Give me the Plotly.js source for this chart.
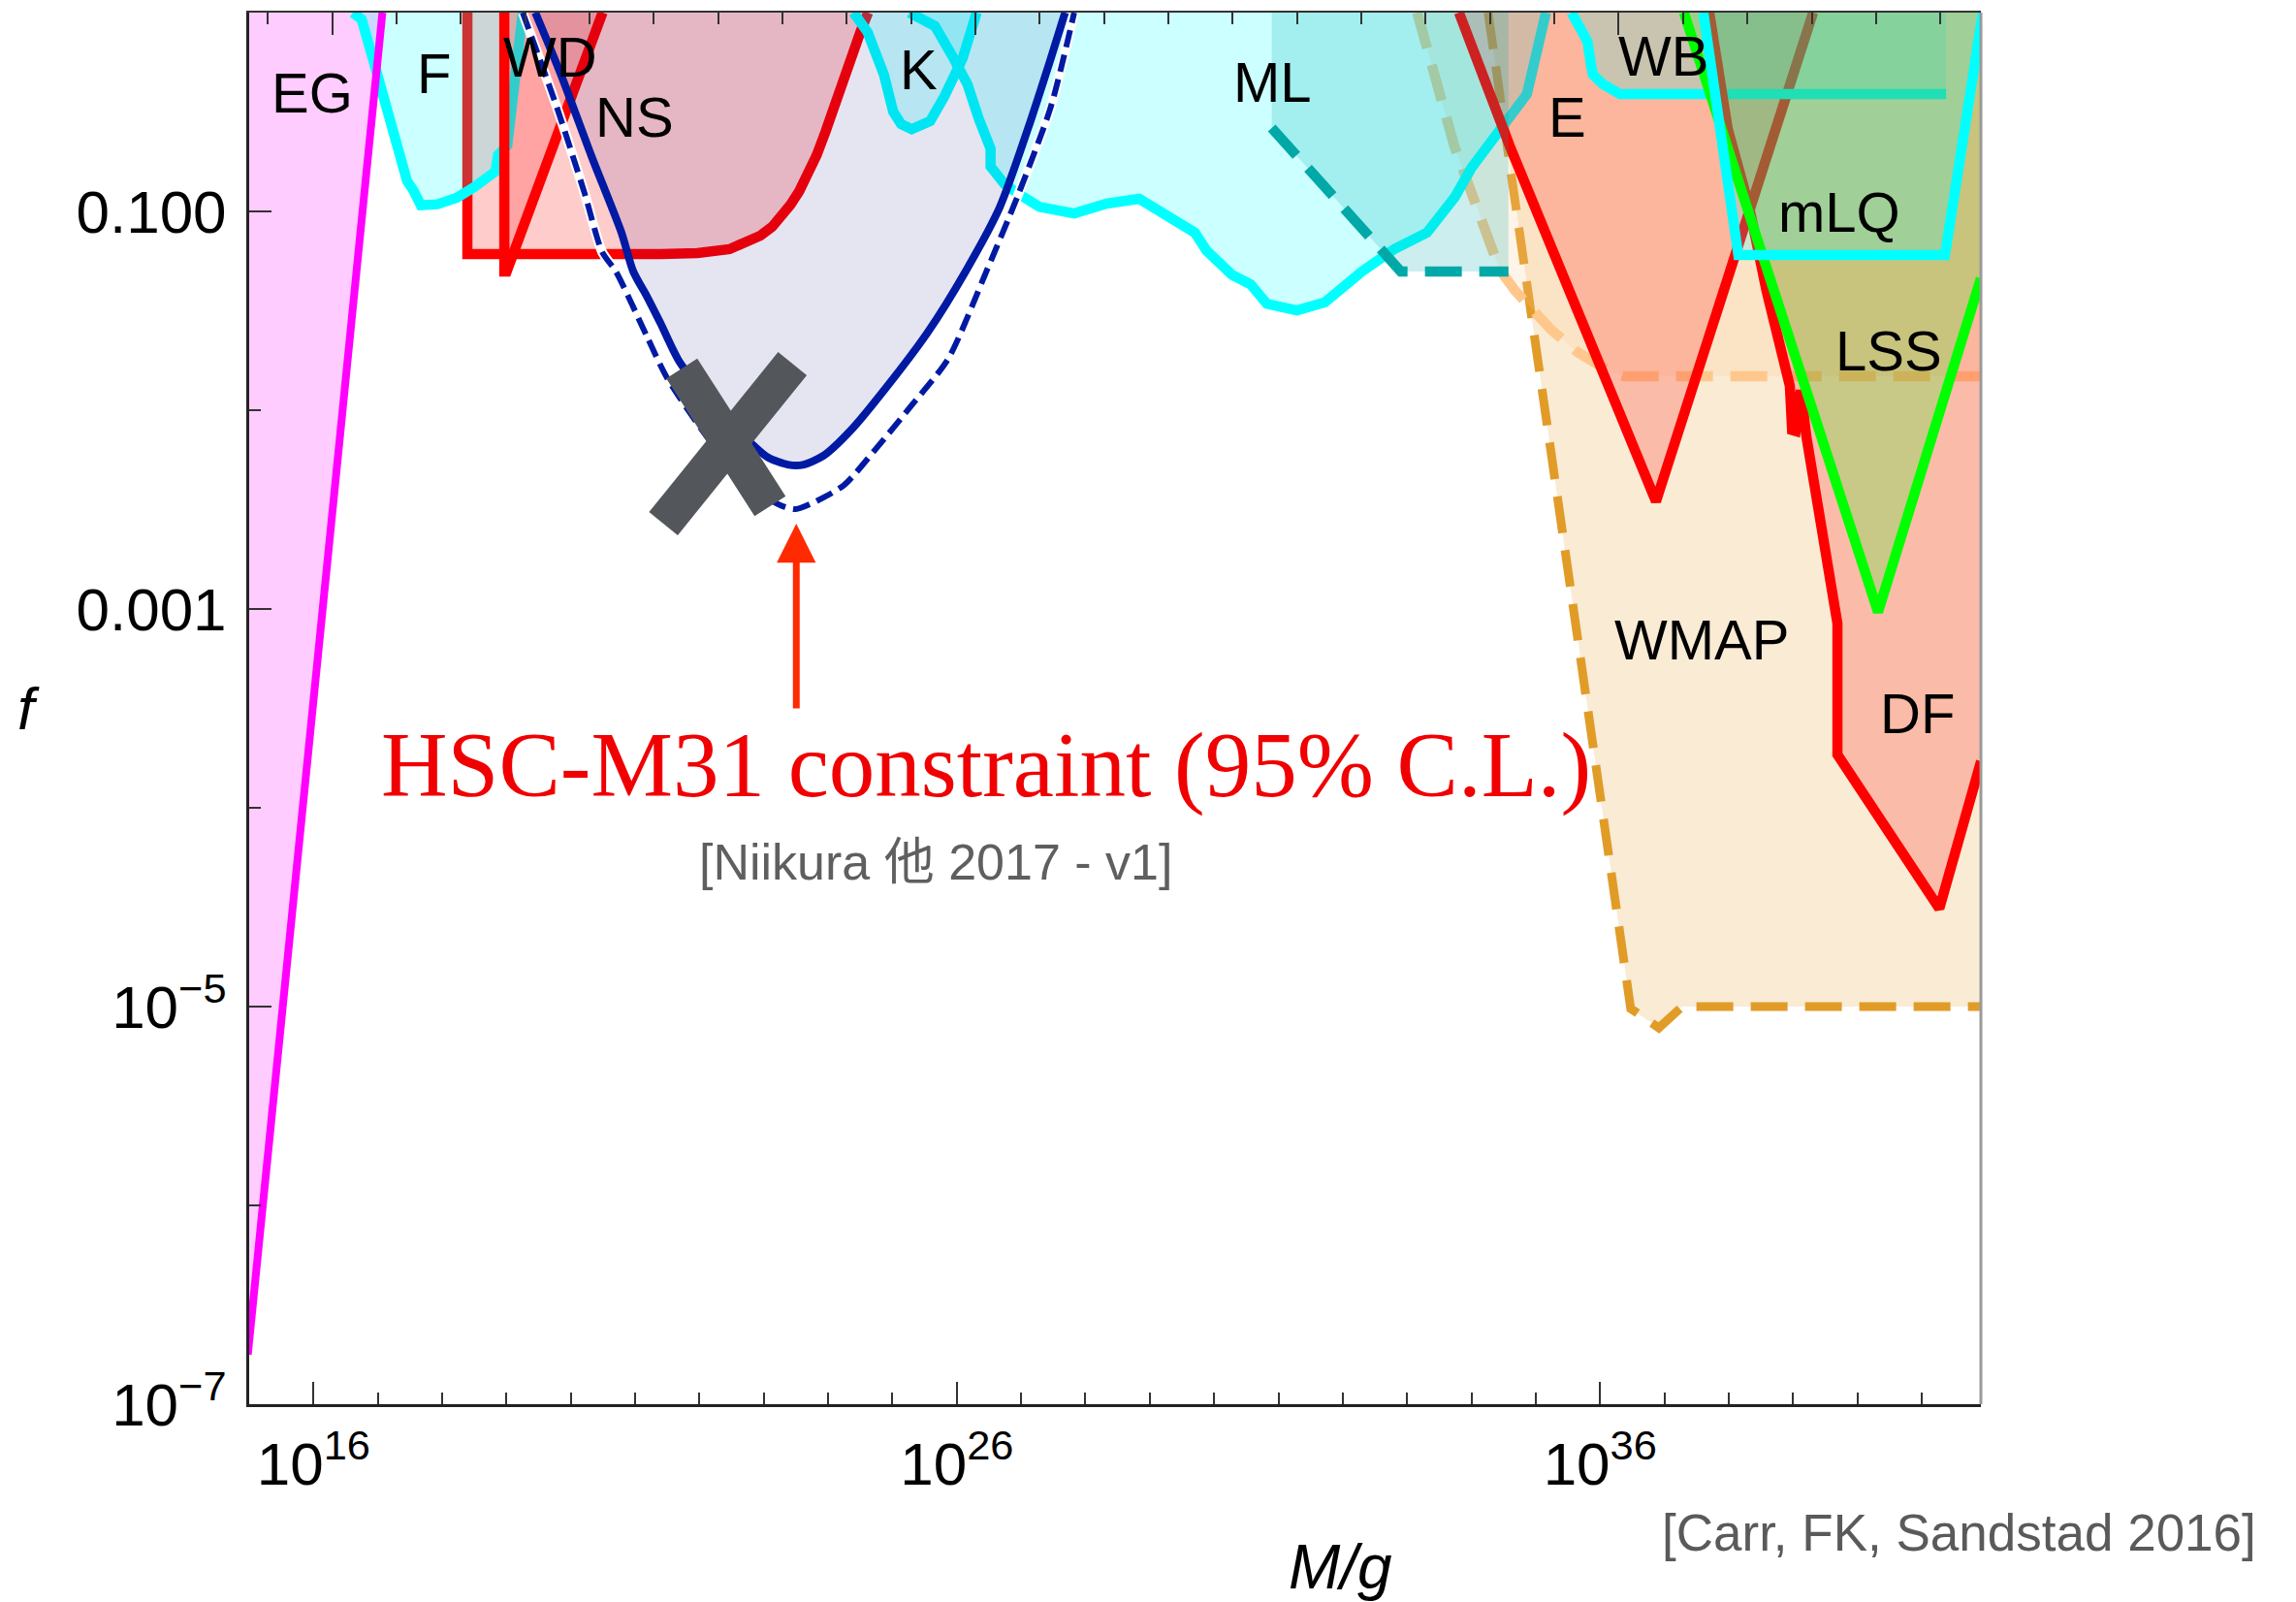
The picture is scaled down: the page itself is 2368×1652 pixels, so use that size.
<!DOCTYPE html>
<html>
<head>
<meta charset="utf-8">
<script src="https://cdn.plot.ly/plotly-3.0.1.min.js"></script>
<style>
  html, body { margin: 0; padding: 0; background: #ffffff; }
  #chart { width: 2368px; height: 1652px; }
</style>
</head>
<body>
<div id="chart"></div>
<script>
// PBH abundance limits f(M). Every value below is log10: M in grams, f dimensionless.

// Frame limits
const M_MIN = 15, M_MAX = 41.92, F_MIN = -7, F_MAX = 0;

// Axis ticks
const xMajor = [16, 26, 36];
const xMajorText = ['10<sup>16</sup>', '10<sup>26</sup>', '10<sup>36</sup>'];
const xMinor = [15, 17, 18, 19, 20, 21, 22, 23, 24, 25, 27, 28, 29, 30, 31, 32, 33, 34, 35, 37, 38, 39, 40, 41];
const yMajor = [-7, -5, -3, -1];
const yMajorText = ['10<sup>\u22127</sup>', '10<sup>\u22125</sup>', '0.001', '0.100'];
const yMinor = [-6, -4, -2];

// EG: extragalactic gamma rays
const EG_logM = [14.979, 15.511, 16.457, 17.071];
const EG_logf = [-6.751, -5.0, -1.985, 0];

// F: femtolensing
const F_logM = [16.612, 16.748, 16.949, 17.080, 17.285, 17.454, 17.555, 17.668, 17.925, 18.226, 18.498, 18.830, 18.867, 19.012, 19.252];
const F_logf = [0, -0.034, -0.262, -0.408, -0.620, -0.847, -0.896, -0.969, -0.964, -0.932, -0.878, -0.799, -0.717, -0.668, 0];

// NS: neutron stars
const NS_logM = [18.392, 18.392, 21.394, 21.967, 22.465, 22.751, 22.947, 23.128, 23.279, 23.415, 23.551, 23.686, 23.822, 23.958, 24.086, 24.222, 24.356, 24.501, 24.621];
const NS_logf = [0, -1.215, -1.215, -1.210, -1.190, -1.156, -1.122, -1.078, -1.024, -0.966, -0.898, -0.815, -0.717, -0.600, -0.473, -0.351, -0.229, -0.098, 0];

// WD: white dwarfs
const WD_logM = [18.966, 18.966, 19.003, 20.494];
const WD_logf = [0, -1.302, -1.302, 0];

// K: Kepler microlensing
const K_logM = [24.395, 24.614, 24.866, 25.011, 25.134, 25.299, 25.587, 25.804, 26.092, 26.309];
const K_logf = [0, -0.099, -0.311, -0.498, -0.561, -0.587, -0.546, -0.424, -0.229, 0];

// ML: MACHO / EROS microlensing
const ML_logM = [25.262, 25.659, 25.949, 26.165, 26.346, 26.525, 26.525, 26.742, 26.959, 27.284, 27.825, 28.330, 28.836, 29.267, 29.701, 29.881, 30.278, 30.567, 30.821, 31.288, 31.721, 32.299, 32.804, 33.309, 33.742, 34.003, 34.320, 34.697, 34.863, 34.969, 35.158];
const ML_logf = [0, -0.067, -0.229, -0.360, -0.538, -0.684, -0.774, -0.863, -0.912, -0.977, -1.010, -0.961, -0.937, -1.026, -1.107, -1.197, -1.319, -1.367, -1.465, -1.498, -1.457, -1.302, -1.189, -1.107, -0.928, -0.780, -0.636, -0.473, -0.410, -0.263, 0];

// ML extension (dashed teal)
const MLX_logM = [30.896, 32.902, 34.576];
const MLX_logf = [-0.580, -1.302, -1.302];

// Accretion limit (dashed peach)
const ACC_logM = [33.158, 33.731, 34.440, 34.682, 35.240, 35.647, 36.145, 36.371, 41.92];
const ACC_logf = [0, -0.668, -1.293, -1.400, -1.595, -1.707, -1.805, -1.829, -1.829];

// WMAP (dashed orange)
const WMAP_logM = [34.259, 36.476, 36.914, 37.276, 41.92];
const WMAP_logf = [0, -5.010, -5.107, -5.0, -5.0];

// E: Eridanus II
const E_logM = [33.807, 34.592, 36.869, 39.312];
const E_logf = [0, -0.668, -2.459, 0];

// WB: wide binaries
const WB_logM = [35.555, 35.662, 35.805, 35.858, 35.889, 36.048, 36.311, 41.379];
const WB_logf = [0, -0.059, -0.146, -0.263, -0.312, -0.361, -0.410, -0.410];

// DF: dynamical friction
const DF_logM = [37.698, 37.985, 38.317, 38.588, 38.950, 38.985, 39.040, 39.120, 39.207, 39.418, 39.614, 39.690, 39.690, 41.274, 41.923];
const DF_logf = [0, -0.585, -0.976, -1.400, -1.878, -2.100, -2.105, -1.900, -2.132, -2.537, -2.946, -3.073, -3.732, -4.507, -3.766];

// LSS: large-scale structure
const LSS_logM = [37.304, 40.321, 41.92];
const LSS_logf = [0, -3.015, -1.337];

// mLQ: millilensing of quasars
const MLQ_logM = [37.606, 38.149, 41.362, 41.95];
const MLQ_logf = [0, -1.220, -1.220, 0];

// HSC-M31 microlensing: solid and dashed bounds
const HSC_logM = [19.448, 19.845, 20.315, 20.787, 20.970, 21.192, 21.394, 21.692, 22.238, 22.796, 23.066, 23.389, 23.605, 23.928, 24.359, 24.898, 25.542, 26.136, 26.670, 27.103, 27.463, 27.683];
const HSC_logf = [0, -0.311, -0.717, -1.107, -1.302, -1.433, -1.562, -1.758, -1.976, -2.164, -2.238, -2.275, -2.275, -2.229, -2.099, -1.888, -1.611, -1.302, -0.977, -0.587, -0.229, 0];
const HSC2_logM = [19.252, 19.779, 20.217, 20.488, 20.700, 21.182, 21.499, 22.343, 23.022, 23.279, 23.496, 23.821, 24.250, 24.736, 25.274, 25.867, 26.460, 26.959, 27.463, 27.825];
const HSC2_logf = [0, -0.473, -0.912, -1.205, -1.302, -1.628, -1.839, -2.229, -2.434, -2.481, -2.498, -2.457, -2.376, -2.197, -1.985, -1.741, -1.302, -0.912, -0.473, 0];

// Cross-out strokes over the HSC bound
const CROSS1_logM = [21.725, 23.098];
const CROSS1_logf = [-1.790, -2.483];
const CROSS2_logM = [21.439, 23.445];
const CROSS2_logf = [-2.571, -1.766];

// Region labels
const labelText = ['EG', 'F', 'WD', 'NS', 'K', 'ML', 'E', 'WB', 'mLQ', 'LSS', 'WMAP', 'DF'];
const labelLogM = [15.979, 17.872, 19.674, 20.986, 25.406, 30.911, 35.496, 36.989, 39.719, 40.488, 37.578, 40.926];
const labelLogf = [-0.400, -0.305, -0.222, -0.522, -0.283, -0.349, -0.522, -0.217, -1.000, -1.702, -3.156, -3.522];

// Arrow pointing at the HSC dashed minimum
const arrowLogM = 23.505;
const arrowTipLogf = -2.571;
const arrowTailLogf = -3.507;

const pow10 = a => a.map(v => Math.pow(10, v));

function fillTrace(lm, lf, color) {
  return { type: 'scatter', mode: 'lines', x: pow10(lm), y: pow10(lf),
    fill: 'toself', fillcolor: color, line: { width: 0 },
    hoverinfo: 'skip', showlegend: false };
}
function lineTrace(lm, lf, color, width, dash, shape) {
  return { type: 'scatter', mode: 'lines', x: pow10(lm), y: pow10(lf),
    line: { color: color, width: width, dash: dash || 'solid', shape: shape || 'linear', smoothing: 0.7 },
    hoverinfo: 'skip', showlegend: false };
}

const RED = '#ff0000', CYAN = '#00ffff';
const RED_F = 'rgba(255,0,0,0.2)', CYAN_F = 'rgba(0,255,255,0.2)';
const LW = 10.5;
const LONG_DASH = '38px,18px';

const traces = [
  fillTrace(WMAP_logM.concat([M_MAX]), WMAP_logf.concat([F_MAX]), 'rgba(225,156,40,0.2)'),
  lineTrace(WMAP_logM, WMAP_logf, '#e19c28', 9, LONG_DASH),
  fillTrace(ACC_logM.concat([M_MAX]), ACC_logf.concat([F_MAX]), 'rgba(255,200,140,0.2)'),
  lineTrace(ACC_logM, ACC_logf, '#ffc78c', LW, LONG_DASH),
  fillTrace(EG_logM.concat([M_MIN - 0.1, M_MIN - 0.1]), EG_logf.concat([F_MAX, EG_logf[0]]), 'rgba(255,0,255,0.2)'),
  fillTrace(NS_logM, NS_logf, RED_F),
  lineTrace(NS_logM, NS_logf, RED, LW),
  fillTrace(F_logM, F_logf, CYAN_F),
  lineTrace(F_logM, F_logf, CYAN, LW),
  fillTrace(WD_logM, WD_logf, RED_F),
  lineTrace(WD_logM, WD_logf, RED, LW),
  lineTrace(EG_logM, EG_logf, '#ff00ff', 8),
  fillTrace(K_logM, K_logf, CYAN_F),
  lineTrace(K_logM, K_logf, CYAN, LW),
  fillTrace(ML_logM, ML_logf, CYAN_F),
  lineTrace(ML_logM, ML_logf, CYAN, LW),
  fillTrace(E_logM, E_logf, RED_F),
  lineTrace(E_logM, E_logf, RED, LW),
  fillTrace([MLX_logM[0]].concat(MLX_logM, [MLX_logM[2]]), [F_MAX].concat(MLX_logf, [F_MAX]), 'rgba(0,168,168,0.2)'),
  lineTrace(MLX_logM, MLX_logf, '#00a8a8', LW, LONG_DASH),
  fillTrace(WB_logM.concat([WB_logM[WB_logM.length - 1]]), WB_logf.concat([F_MAX]), CYAN_F),
  lineTrace(WB_logM, WB_logf, CYAN, LW),
  fillTrace(DF_logM.concat([M_MAX + 0.1]), DF_logf.concat([F_MAX]), RED_F),
  lineTrace(DF_logM, DF_logf, RED, LW),
  fillTrace(LSS_logM.concat([M_MAX + 0.1]), LSS_logf.concat([F_MAX]), 'rgba(0,255,0,0.2)'),
  fillTrace(MLQ_logM, MLQ_logf, CYAN_F),
  lineTrace(LSS_logM, LSS_logf, '#00ff00', LW),
  lineTrace(MLQ_logM, MLQ_logf, CYAN, LW),
  fillTrace(HSC_logM, HSC_logf, 'rgba(0,0,128,0.1)'),
  lineTrace(HSC2_logM, HSC2_logf, '#ffffff', 10, 'solid', 'spline'),
  lineTrace(HSC2_logM, HSC2_logf, '#001aa3', 6, '18px,8px', 'spline'),
  lineTrace(HSC_logM, HSC_logf, '#001aa3', 8, 'solid', 'spline'),
  lineTrace(CROSS1_logM, CROSS1_logf, '#53575c', 38),
  lineTrace(CROSS2_logM, CROSS2_logf, '#53575c', 38),
  // carrier for the top frame axis
  { type: 'scatter', mode: 'markers', x: [1e20], y: [1e-3], xaxis: 'x2',
    marker: { opacity: 0 }, hoverinfo: 'skip', showlegend: false }
];

const tickFont = { family: 'Liberation Sans, Arial, sans-serif', size: 62, color: '#000000' };

const annotations = labelText.map((t, i) => ({
  x: labelLogM[i], y: labelLogf[i], xref: 'x', yref: 'y', text: t, showarrow: false,
  xanchor: 'center', yanchor: 'middle',
  font: { family: 'Liberation Sans, Arial, sans-serif', size: 58, color: '#000000' }
}));

annotations.push(
  { x: arrowLogM, y: arrowTipLogf, ax: arrowLogM, ay: arrowTailLogf, xref: 'x', yref: 'y',
    axref: 'x', ayref: 'y', text: '', showarrow: true, arrowhead: 2, arrowsize: 1.15,
    arrowwidth: 7, arrowcolor: '#ff2a00', standoff: 0 },
  { x: 26.461, y: -3.785, xref: 'x', yref: 'y', showarrow: false, xanchor: 'center', yanchor: 'middle',
    text: 'HSC-M31 constraint (95% C.L.)',
    font: { family: 'Liberation Serif, Times New Roman, serif', size: 95, color: '#f00000' } },
  { x: 25.677, y: -4.273, xref: 'x', yref: 'y', showarrow: false, xanchor: 'center', yanchor: 'middle',
    text: '[Niikura \u4ed6 2017 - v1]',
    font: { family: 'Liberation Sans, Noto Sans CJK JP, sans-serif', size: 52, color: '#5f5f5f' } },
  { x: -0.1276, y: 0.5, xref: 'paper', yref: 'paper', showarrow: false, xanchor: 'center', yanchor: 'middle',
    text: '<i>f</i>', font: { family: 'Liberation Sans, Arial, sans-serif', size: 62, color: '#000000' } },
  { x: 0.6299, y: -0.1174, xref: 'paper', yref: 'paper', showarrow: false, xanchor: 'center', yanchor: 'middle',
    text: '<i>M/g</i>', font: { family: 'Liberation Sans, Arial, sans-serif', size: 64, color: '#000000' } },
  { x: 1.1601, y: -0.092, xref: 'paper', yref: 'paper', showarrow: false, xanchor: 'right', yanchor: 'middle',
    text: '[Carr, FK, Sandstad 2016]', font: { family: 'Liberation Sans, Arial, sans-serif', size: 53, color: '#5a5a5a' } }
);

const layout = {
  width: 2368, height: 1652, autosize: false,
  margin: { l: 257, r: 325, t: 13, b: 204, pad: 0 },
  paper_bgcolor: '#ffffff', plot_bgcolor: '#ffffff',
  showlegend: false,
  xaxis: {
    type: 'log', range: [M_MIN, M_MAX], showgrid: false, zeroline: false,
    showline: true, linecolor: '#222222', linewidth: 3,
    ticks: 'inside', ticklen: 23, tickwidth: 2, tickcolor: '#333333',
    tickvals: pow10(xMajor), ticktext: xMajorText, tickfont: tickFont, ticklabelstandoff: 6,
    minor: { tickvals: pow10(xMinor), ticks: 'inside', ticklen: 12, tickwidth: 2, tickcolor: '#333333', showgrid: false }
  },
  xaxis2: {
    type: 'log', overlaying: 'x', side: 'top', anchor: 'y', range: [M_MIN - 0.29, M_MAX - 0.29],
    showgrid: false, zeroline: false, showline: true, linecolor: '#333333', linewidth: 2,
    ticks: 'inside', ticklen: 23, tickwidth: 2, tickcolor: '#333333',
    tickvals: pow10(xMajor), showticklabels: false,
    minor: { tickvals: pow10(xMinor), ticks: 'inside', ticklen: 12, tickwidth: 2, tickcolor: '#333333', showgrid: false }
  },
  yaxis: {
    type: 'log', range: [F_MIN, F_MAX], showgrid: false, zeroline: false,
    showline: true, linecolor: '#222222', linewidth: 3,
    ticks: 'inside', ticklen: 23, tickwidth: 2, tickcolor: '#333333',
    tickvals: pow10(yMajor), ticktext: yMajorText, tickfont: tickFont, ticklabelstandoff: 8,
    minor: { tickvals: pow10(yMinor), ticks: 'inside', ticklen: 12, tickwidth: 2, tickcolor: '#333333', showgrid: false }
  },
  shapes: [
    { type: 'line', xref: 'paper', yref: 'paper', x0: 1, x1: 1, y0: 0, y1: 1,
      line: { color: '#9a9a9a', width: 3 } }
  ],
  annotations: annotations
};

Plotly.newPlot('chart', traces, layout, { displayModeBar: false, staticPlot: true });
</script>
</body>
</html>
